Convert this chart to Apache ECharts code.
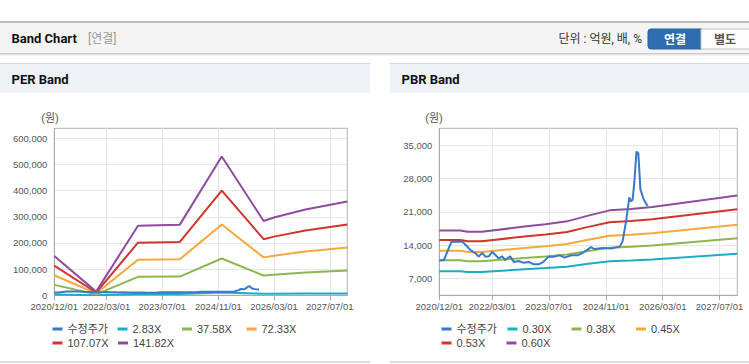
<!DOCTYPE html>
<html><head><meta charset="utf-8">
<script src="https://cdn.jsdelivr.net/npm/echarts@6/dist/echarts.min.js"></script>
<style>html,body{margin:0;padding:0;background:#fff;overflow:hidden}#c{width:749px;height:364px}</style>
</head><body><div id="c"></div>
<script>
// ---- data ----
const xAxisStart = '2020-12-01';
const xAxisEnd = '2027-12-01';
const xTickDates = ['2020-12-01','2022-03-01','2023-07-01','2024-11-01','2026-03-01','2027-07-01'];

const priceName = '수정주가';
const priceDates = ['2020-12-01','2021-01-10','2021-03-16','2021-05-01','2021-06-16','2021-07-13','2021-08-25','2021-10-07','2021-11-04','2021-12-04','2021-12-31','2022-02-01','2022-02-28','2022-03-25','2022-04-25','2022-05-22','2022-06-19','2022-08-01','2022-09-01','2022-10-13','2022-11-25','2023-01-07','2023-02-19','2023-04-01','2023-05-13','2023-06-25','2023-08-16','2023-09-28','2023-11-10','2024-01-07','2024-03-04','2024-04-28','2024-06-25','2024-07-22','2024-10-04','2024-12-13','2025-02-25','2025-03-22','2025-04-19','2025-05-19','2025-06-01','2025-06-16','2025-07-01','2025-07-19','2025-08-04','2025-08-22','2025-09-19','2025-10-22'];
const priceValues = [10800,10900,14800,14700,14800,14100,13000,12300,11600,12400,11600,11700,12600,12000,11200,11700,10900,11700,10500,10700,10300,10500,10000,10000,10500,11600,11600,11900,11400,11900,11900,12600,13600,13200,13400,13300,13700,14800,18700,24000,23200,23500,27200,33600,33300,25700,23600,22200];

const perBandDates = ['2020-12-01','2021-12-01','2022-12-01','2023-12-01','2024-12-01','2025-12-01','2026-03-01','2026-12-01','2027-12-01'];
const perBandNames = ['2.83X','37.58X','72.33X','107.07X','141.82X'];
const perBand1 = [2994,280,5309,5388,10576,5668,5926,6546,7143];
const perBand2 = [39760,3720,70500,71550,140440,75270,78690,86920,94850];
const perBand3 = [76530,7160,135690,137720,270300,144880,151460,167300,182560];
const perBand4 = [113280,10600,200860,203860,400120,214460,224200,247650,270240];
const perBand5 = [150000,14000,266000,270000,530000,284000,297000,328000,358000];
const perYTicks = [0,100000,200000,300000,400000,500000,600000];

const pbrBandDates = ['2020-12-01','2021-06-01','2021-08-01','2021-12-01','2022-12-01','2023-06-01','2023-12-01','2024-06-01','2024-12-01','2025-06-01','2025-12-01','2027-12-01'];
const pbrBandNames = ['0.30X','0.38X','0.45X','0.53X','0.60X'];
const pbrBand1 = [8550,8550,8400,8400,8950,9200,9500,10100,10650,10800,11000,12200];
const pbrBand2 = [10830,10830,10640,10640,11337,11653,12033,12793,13490,13680,13933,15453];
const pbrBand3 = [12825,12825,12600,12600,13425,13800,14250,15150,15975,16200,16500,18300];
const pbrBand4 = [15105,15105,14840,14840,15812,16253,16783,17843,18815,19080,19433,21553];
const pbrBand5 = [17100,17100,16800,16800,17900,18400,19000,20200,21300,21600,22000,24400];
const pbrYTicks = [7000,14000,21000,28000,35000];

// ---- helpers ----
function ts(s){const p=s.split('-').map(Number);return new Date(p[0],p[1]-1,p[2]).getTime();}
function pairs(dates, vals){return dates.map((d,i)=>[ts(d),vals[i]]);}
function fmtDate(v){const d=new Date(v);const p=n=>String(n).padStart(2,'0');return d.getFullYear()+'/'+p(d.getMonth()+1)+'/'+p(d.getDate());}
function fmtNum(v){return String(Math.round(v)).replace(/\B(?=(\d{3})+(?!\d))/g,',');}

const colors = {price:'#3b78c6', c1:'#1aadc6', c2:'#8db552', c3:'#f5a83b', c4:'#d0352d', c5:'#8f4c9e'};
const bandColors = [colors.c1,colors.c2,colors.c3,colors.c4,colors.c5];
const FONT = "'Liberation Sans', Arial, 'Noto Sans CJK KR', sans-serif";
const KFONT = "Roboto, 'Noto Sans CJK KR', sans-serif";

const xTicks = xTickDates.map(ts);
function xAxis(gi){
  return {type:'value', gridIndex:gi, min:ts(xAxisStart), max:ts(xAxisEnd), scale:true,
    axisLine:{show:true, onZero:false, lineStyle:{color:'#aaaaaa', width:1}},
    axisTick:{show:true, length:5, lineStyle:{color:'#aaaaaa'}, customValues:xTicks},
    axisLabel:{customValues:xTicks, formatter:fmtDate, color:'#555', fontSize:9.5, fontFamily:FONT, margin:6, hideOverlap:false},
    splitLine:{show:true, lineStyle:{color:'#e6e6e6', width:1}}};
}
function yAxis(gi, min, max, ticks){
  return {type:'value', gridIndex:gi, min:min, max:max,
    axisLine:{show:true, lineStyle:{color:'#aaaaaa'}},
    axisTick:{show:false, customValues:ticks},
    axisLabel:{customValues:ticks, formatter:fmtNum, color:'#555', fontSize:9.5, fontFamily:FONT, margin:7},
    splitLine:{show:true, lineStyle:{color:'#e6e6e6'}}};
}
function line(name, data, color, gi, z){
  return {type:'line', name:name, xAxisIndex:gi, yAxisIndex:gi, data:data, showSymbol:false, symbol:'none',
    lineStyle:{width:2, color:color}, itemStyle:{color:color}, z:z||2, animation:false};
}

const series = [];
const perBands=[perBand1,perBand2,perBand3,perBand4,perBand5];
const pbrBands=[pbrBand1,pbrBand2,pbrBand3,pbrBand4,pbrBand5];
perBands.forEach((b,i)=>series.push(line(perBandNames[i], pairs(perBandDates,b), bandColors[i], 0)));
series.push(line(priceName, pairs(priceDates,priceValues), colors.price, 0, 3));
pbrBands.forEach((b,i)=>series.push(line(pbrBandNames[i], pairs(pbrBandDates,b), bandColors[i], 1)));
series.push(line(priceName, pairs(priceDates,priceValues), colors.price, 1, 3));

function leg(name, left, top){
  return {data:[name], left:left, top:top, icon:'rect', itemWidth:10, itemHeight:3, itemGap:0, padding:0,
    selectedMode:false, textStyle:{fontSize:11, color:'#444', fontFamily:FONT}};
}
const legends = [
  leg(priceName,52.5,323.5), leg(perBandNames[0],117.5,323.5), leg(perBandNames[1],182,323.5), leg(perBandNames[2],246.5,323.5),
  leg(perBandNames[3],52.5,337.5), leg(perBandNames[4],118,337.5),
  leg(priceName,441.5,323.5), leg(pbrBandNames[0],507.5,323.5), leg(pbrBandNames[1],571.5,323.5), leg(pbrBandNames[2],636,323.5),
  leg(pbrBandNames[3],441.5,337.5), leg(pbrBandNames[4],506.5,337.5)
];

function txt(text, x, y, font, fill, align){
  return {type:'text', x:x, y:y, silent:true, z:10,
    style:{text:text, font:font, fill:fill, align:align||'left', verticalAlign:'middle', textAlign:align||'left', textVerticalAlign:'middle'}};
}
function rect(x,y,w,h,fill,z){
  return {type:'rect', silent:true, z:z||0, shape:{x:x,y:y,width:w,height:h}, style:{fill:fill}};
}

const graphic = [
  rect(0,21,749,2,'#bdbdbd',1),
  rect(0,23,749,30,'#f4f4f4',1),
  rect(0,53,749,1,'#c9c9c9',1),
  rect(0,54,749,1,'#e4e4e4',1),
  rect(0,55,749,1,'#f2f2f2',1),
  txt('Band Chart', 11.5, 38.5, "bold 13px "+KFONT, '#111'),
  txt('[연결]', 88, 38.5, "12px "+KFONT, '#9a9a9a'),
  txt('단위 : 억원, 배, %', 642, 39, "12px "+KFONT, '#333', 'right'),
  {type:'rect', silent:true, z:2, shape:{x:648,y:29,width:54,height:20,r:[3,0,0,3]}, style:{fill:'#2f6db3', stroke:'#2a62a2', lineWidth:1}},
  {type:'rect', silent:true, z:2, shape:{x:701,y:29,width:52,height:20,r:[0,3,3,0]}, style:{fill:'#fdfdfd', stroke:'#c4c4c4', lineWidth:1}},
  txt('연결', 675, 39.5, "bold 12px "+KFONT, '#ffffff', 'center'),
  txt('별도', 725, 39.5, "bold 12px "+KFONT, '#555555', 'center'),
  rect(0,63,370,1,'#d4d4d4',1),
  rect(0,64,370,29,'#eef1f6',1),
  rect(0,361,370,2,'#dcdcdc',1),
  txt('PER Band', 11.5, 79.5, "bold 13px "+KFONT, '#111'),
  txt('(원)', 50, 118, "11px "+KFONT, '#555', 'center'),
  rect(390,63,359,1,'#d4d4d4',1),
  rect(390,64,359,29,'#eef1f6',1),
  rect(390,361,359,2,'#dcdcdc',1),
  txt('PBR Band', 401.5, 79.5, "bold 13px "+KFONT, '#111'),
  txt('(원)', 434, 118, "11px "+KFONT, '#555', 'center')
];

const chart = echarts.init(document.getElementById('c'), null, {renderer:'svg', width:749, height:364});
chart.setOption({
  animation:false,
  backgroundColor:'#ffffff',
  grid:[
    {left:54.3, top:128.3, width:293, height:167, show:true, borderColor:'#b0b0b0', borderWidth:1, backgroundColor:'#ffffff'},
    {left:439.3, top:128.3, width:298, height:167, show:true, borderColor:'#b0b0b0', borderWidth:1, backgroundColor:'#ffffff'}
  ],
  xAxis:[xAxis(0), xAxis(1)],
  yAxis:[yAxis(0,0,638000,perYTicks), yAxis(1,3500,38500,pbrYTicks)],
  legend:legends,
  tooltip:{show:false},
  graphic:graphic,
  series:series
});
</script></body></html>
